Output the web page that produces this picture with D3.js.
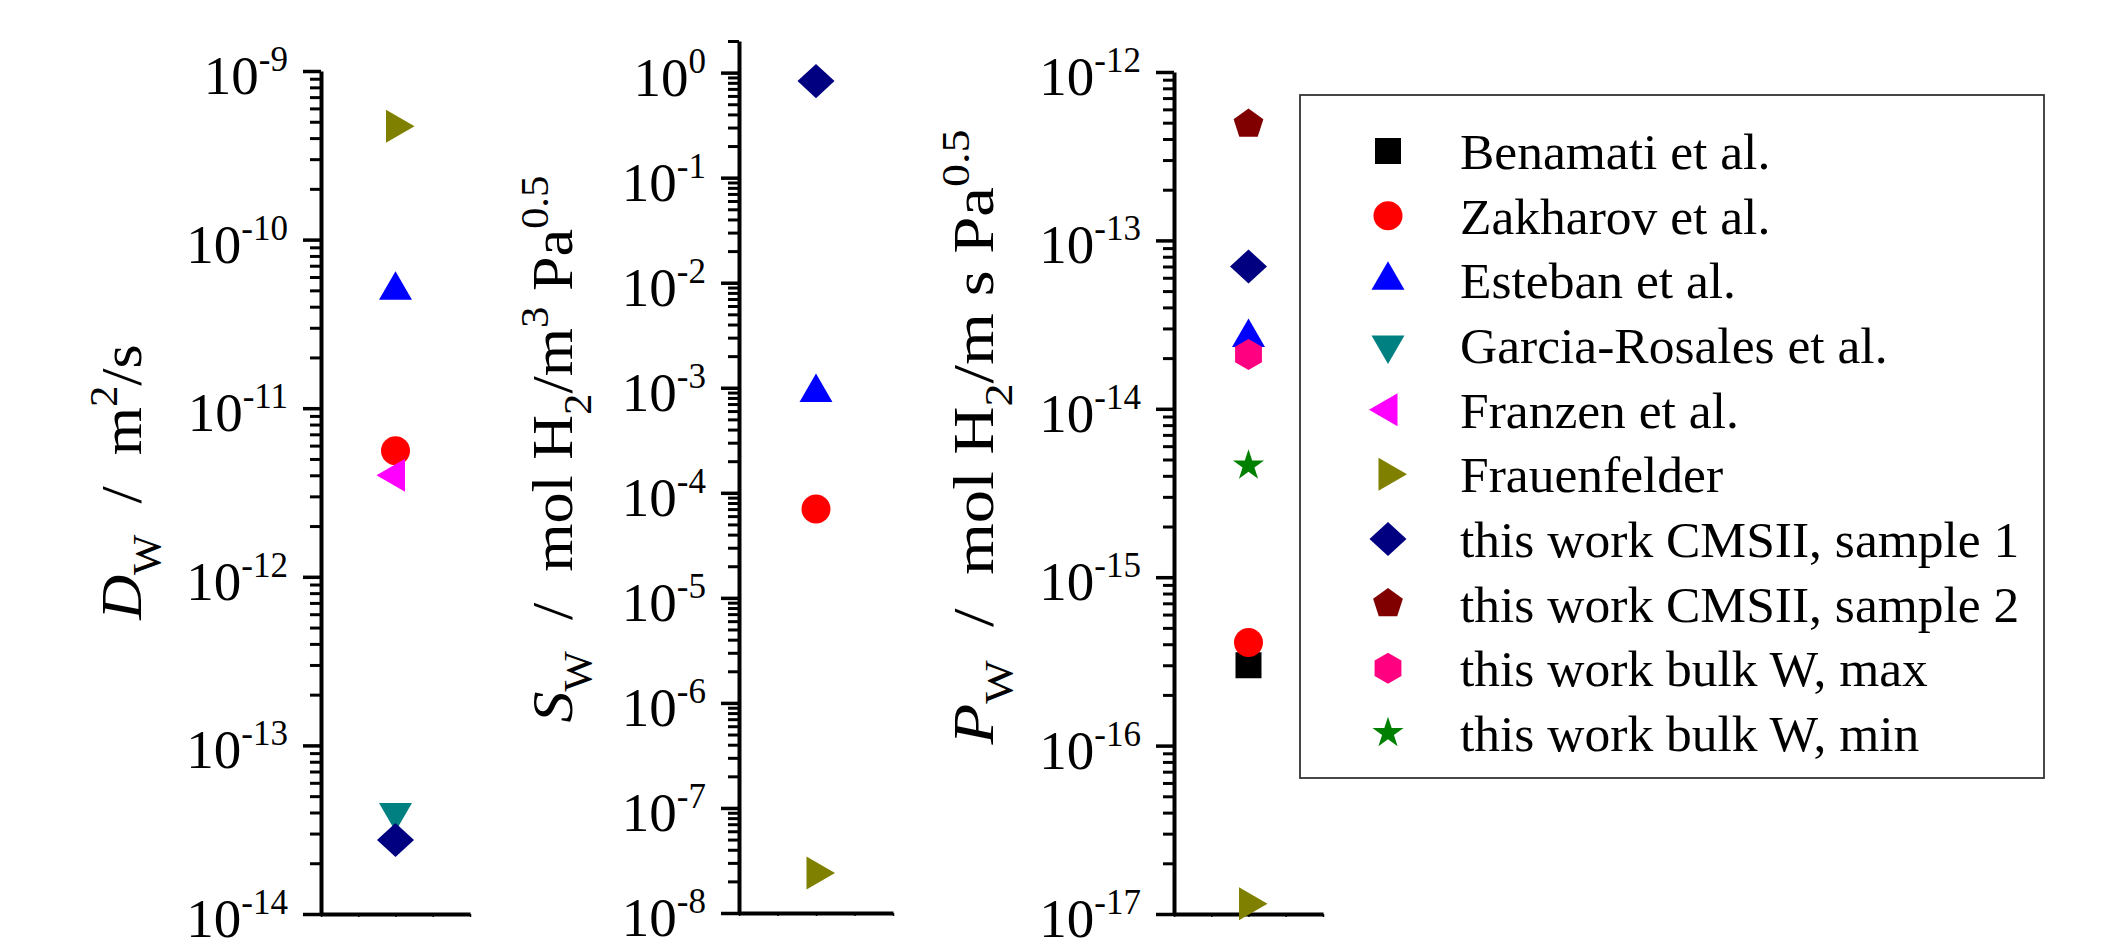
<!DOCTYPE html>
<html>
<head>
<meta charset="utf-8">
<script src="https://cdn.jsdelivr.net/npm/d3@7"></script>
<style>
  body { margin: 0; background: #fff; }
  svg { display: block; }
  text { font-family: "Liberation Serif", "Times New Roman", serif; fill: #000; }
</style>
</head>
<body>
<div id="chart"></div>
<script>
// series, in legend order
var seriesNames = ["Benamati et al.", "Zakharov et al.", "Esteban et al.", "Garcia-Rosales et al.",
  "Franzen et al.", "Frauenfelder", "this work CMSII, sample 1", "this work CMSII, sample 2",
  "this work bulk W, max", "this work bulk W, min"];

// values (null = not in that panel)
var diffusivity  = [null, 5.6e-12, 5.0e-11, 4.0e-14, 4.0e-12, 4.7e-10, 2.75e-14, null, null, null];
var solubility   = [null, 7.0e-5, 9.0e-4, null, null, 2.4e-8, 0.83, null, null, null];
var permeability = [3.0e-16, 4.1e-16, 2.65e-14, null, null, 1.15e-17, 7.0e-14, 4.9e-13, 2.1e-14, 4.6e-15];

var seriesColors = ["#000000", "#ff0000", "#0000ff", "#008080", "#ff00ff", "#808000",
  "#000080", "#800000", "#ff0080", "#008000"];
var seriesShapes = ["square", "circle", "up", "down", "left", "right", "diamond", "pentagon", "hexagon", "star"];

var svgwidth = 2121, svgheight = 945;
var tickFont = 55, supFont = 35, labelFont = 58, subFont = 40, legendFont = 51.5;

var svg = d3.select("#chart").append("svg")
  .attr("width", svgwidth)
  .attr("height", svgheight);

svg.append("rect").attr("width", svgwidth).attr("height", svgheight).attr("fill", "#fff");

// custom marker shapes
function polygon(n) {
  return {
    draw: function(ctx, size) {
      var r = Math.sqrt(size);
      for (var k = 0; k < n; k++) {
        var a = -Math.PI / 2 + k * 2 * Math.PI / n;
        var px = r * Math.cos(a), py = r * Math.sin(a);
        if (k === 0) ctx.moveTo(px, py); else ctx.lineTo(px, py);
      }
      ctx.closePath();
    }
  };
}
var diamondType = {
  draw: function(ctx, size) {
    var r = Math.sqrt(size);
    ctx.moveTo(0, -0.92 * r);
    ctx.lineTo(r, 0);
    ctx.lineTo(0, 0.92 * r);
    ctx.lineTo(-r, 0);
    ctx.closePath();
  }
};

function marker(g, shape, color, x, y) {
  var type = d3.symbolTriangle, size = 470, rot = 0;
  if (shape === "square") { type = d3.symbolSquare; size = 676; }
  if (shape === "circle") { type = d3.symbolCircle; size = 660; }
  if (shape === "down") rot = 180;
  if (shape === "left") rot = -90;
  if (shape === "right") rot = 90;
  if (shape === "diamond") { type = diamondType; size = 342; }
  if (shape === "pentagon") { type = polygon(5); size = 245; }
  if (shape === "hexagon") { type = polygon(6); size = 240; }
  if (shape === "star") { type = d3.symbolStar; size = 300; }
  g.append("path")
    .attr("d", d3.symbol().type(type).size(size)())
    .attr("transform", `translate(${x},${y}) rotate(${rot})`)
    .attr("fill", color);
}

// append text made of pieces: normal, italic, sub, sup
function richText(text, pieces) {
  var shift = 0;
  pieces.forEach(function(p) {
    var want = 0;
    if (p[1] === "sub") want = 0.32 * labelFont;
    if (p[1] === "sup") want = -0.42 * labelFont;
    var ts = text.append("tspan").text(p[0]).attr("dy", want - shift);
    shift = want;
    if (p[1] === "sub" || p[1] === "sup") ts.attr("font-size", subFont);
    if (p[1] === "i") ts.attr("font-style", "italic");
  });
}

var panels = [
  { values: diffusivity, domain: [1e-14, 1e-9], range: [914, 71], left: 321, right: 470,
    labelX: 141, labelY: 482, stretch: 1.07,
    label: [["D", "i"], ["W", "sub"], ["  /  m", ""], ["2", "sup"], ["/s", ""]] },
  { values: solubility, domain: [1e-8, 2], range: [913, 41], left: 739, right: 893,
    labelX: 572, labelY: 449, stretch: 1.07,
    label: [["S", "i"], ["W", "sub"], ["  /  mol H", ""], ["2", "sub"], ["/m", ""], ["3", "sup"],
            [" Pa", ""], ["0.5", "sup"]] },
  { values: permeability, domain: [1e-17, 1e-12], range: [914, 72], left: 1174, right: 1323,
    labelX: 993, labelY: 437, stretch: 1.15,
    label: [["P", "i"], ["W", "sub"], ["  /  mol H", ""], ["2", "sub"], ["/m s Pa", ""], ["0.5", "sup"]] }
];

panels.forEach(function(p) {
  var y = d3.scaleLog().domain(p.domain).range(p.range);
  var x = d3.scaleLinear().domain([0, 2]).range([p.left, p.right]);

  var lo = Math.round(Math.log10(p.domain[0])), hi = Math.floor(Math.log10(p.domain[1]) + 1e-9);
  var majors = d3.range(lo, hi + 1).map(e => Math.pow(10, e));
  var minors = [];
  d3.range(lo, hi + 1).forEach(function(e) {
    for (var k = 2; k <= 9; k++) {
      var v = k * Math.pow(10, e);
      if (v <= p.domain[1] * 1.0001) minors.push(v);
    }
  });

  var g = svg.append("g");

  // minor ticks
  g.append("g")
    .attr("transform", `translate(${p.left},0)`)
    .call(d3.axisLeft(y).tickValues(minors).tickSize(11).tickSizeOuter(0).tickFormat(""))
    .call(a => a.select(".domain").remove())
    .selectAll("line").attr("stroke-width", 3);

  // major ticks + axis line
  var ya = g.append("g")
    .attr("transform", `translate(${p.left},0)`)
    .call(d3.axisLeft(y).tickValues(majors).tickSize(18).tickSizeOuter(0).tickFormat(""));
  ya.selectAll("line").attr("stroke-width", 3.5);
  ya.select(".domain").attr("stroke-width", 4);

  // x axis line at the bottom
  var xa = g.append("g")
    .attr("transform", `translate(0,${p.range[0]})`)
    .call(d3.axisBottom(x).ticks(6).tickSize(3).tickSizeOuter(0).tickFormat(""));
  xa.select(".domain").attr("stroke-width", 4);
  xa.selectAll("line").attr("stroke-width", 1.5);

  // decade labels 10^n
  majors.forEach(function(v) {
    var t = g.append("text")
      .attr("x", p.left - 33)
      .attr("y", y(v) + 23)
      .attr("text-anchor", "end")
      .attr("font-size", tickFont);
    t.append("tspan").text("10");
    t.append("tspan").text(String(Math.round(Math.log10(v))))
      .attr("font-size", supFont).attr("dy", -23);
  });

  // axis title
  var lt = g.append("text")
    .attr("transform", `translate(${p.labelX},${p.labelY}) rotate(-90) scale(${p.stretch},1)`)
    .attr("text-anchor", "middle")
    .attr("font-size", labelFont)
    .style("white-space", "pre");
  richText(lt, p.label);

  // points, drawn in legend order
  p.values.forEach(function(v, i) {
    if (v == null) return;
    marker(g, seriesShapes[i], seriesColors[i], x(1), y(v));
  });
});

// legend
var legend = svg.append("g");
legend.append("rect")
  .attr("x", 1300).attr("y", 95)
  .attr("width", 744).attr("height", 683)
  .attr("fill", "none").attr("stroke", "#333").attr("stroke-width", 1.8);

var rowY = d3.scaleLinear().domain([0, seriesNames.length - 1]).range([151, 733]);
seriesNames.forEach(function(name, i) {
  marker(legend, seriesShapes[i], seriesColors[i], 1388, rowY(i));
  legend.append("text")
    .attr("x", 1460)
    .attr("y", rowY(i) + 18)
    .attr("font-size", legendFont)
    .text(name);
});
</script>
</body>
</html>
